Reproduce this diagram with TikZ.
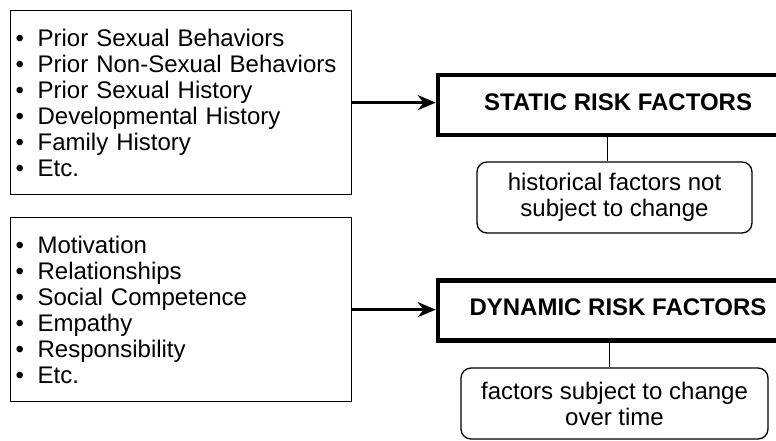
\documentclass[tikz,border=0pt]{standalone}
\usepackage{fontspec}
\setmainfont{Liberation Sans}
\usetikzlibrary{arrows.meta}
\newcommand\bul{\makebox[25pt][l]{\hspace{3pt}\textbullet}}
\begin{document}
\begin{tikzpicture}[x=1pt,y=-1pt,
  every node/.style={font=\fontsize{24}{26}\selectfont},
  listbox/.style={draw, line width=1.3pt, minimum width=341pt, minimum height=184pt,
    text width=337pt, inner xsep=2pt, align=left, anchor=north west},
  factorbox/.style={draw, line width=4.5pt, minimum width=360pt, minimum height=60pt,
    font=\fontsize{24}{26}\selectfont\bfseries, text depth=7pt},
  notebox/.style={draw, line width=1.3pt, rounded corners=10pt, align=center,
    minimum height=71pt},
  arr/.style={line width=3pt, -{Stealth[length=18pt,width=15pt]}},
  link/.style={line width=1pt}]
\useasboundingbox (0,0) rectangle (776,441);

% input lists
\node[listbox] (hist) at (10,10) {\bul Prior Sexual Behaviors\\
  \bul Prior Non-Sexual Behaviors\\
  \bul Prior Sexual History\\
  \bul Developmental History\\
  \bul Family History\\
  \bul Etc.};
\node[listbox] (chg) at (10,217) {\bul Motivation\\
  \bul Relationships\\
  \bul Social Competence\\
  \bul Empathy\\
  \bul Responsibility\\
  \bul Etc.};

% factor headings
\node[factorbox] (static) at (618,105.25) {STATIC RISK FACTORS};
\node[factorbox] (dynamic) at (618,310.5) {DYNAMIC RISK FACTORS};

% explanatory notes
\node[notebox, minimum width=275pt] (snote) at (614.5,197.5) {historical factors not\\subject to change};
\node[notebox, minimum width=307pt] (dnote) at (614.5,403.5) {factors subject to change\\over time};

% connectors
\draw[arr] (hist.east) -- (hist.east -| static.west);
\draw[arr] (chg.east) -- (chg.east -| dynamic.west);
\draw[link] ([xshift=-7.5pt]snote.north) -- ([xshift=-7.5pt]snote.north |- static.south);
\draw[link] ([xshift=-5.5pt]dnote.north) -- ([xshift=-5.5pt]dnote.north |- dynamic.south);
\end{tikzpicture}
\end{document}
